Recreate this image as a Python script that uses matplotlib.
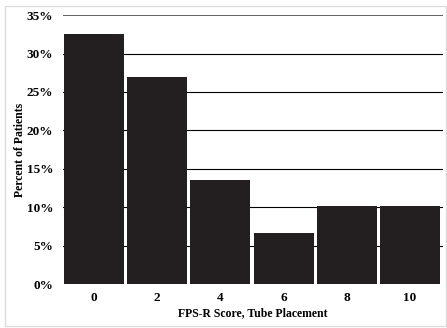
import matplotlib.pyplot as plt
from matplotlib.patches import Rectangle
from matplotlib.ticker import FuncFormatter

# FPS-R scores and share of patients (%)
scores = ['0', '2', '4', '6', '8', '10']
percents = [32.6, 27.0, 13.5, 6.7, 10.1, 10.1]

plt.rcParams['font.family'] = ['Liberation Serif', 'DejaVu Serif']
plt.rcParams['font.weight'] = 'bold'

fig = plt.figure(figsize=(4.47, 3.28), dpi=100)
ax = fig.add_axes([0.141, 0.134, 0.850, 0.820])

# light frame round the whole picture
fig.patches.append(Rectangle((0.012, 0.006), 0.985, 0.976, transform=fig.transFigure,
                             fill=False, edgecolor='#dddddd', linewidth=1))

x = range(len(scores))
ax.bar(x, percents, width=0.95, color='#231f20', zorder=3)

ax.set_ylim(0, 35)
ax.set_xlim(-0.49, 5.52)
ax.set_yticks(range(0, 36, 5))
ax.yaxis.set_major_formatter(FuncFormatter(lambda v, p: f'{int(v)}%'))
ax.set_xticks(list(x))
ax.set_xticklabels(scores)

for v in range(5, 35, 5):
    ax.axhline(v, color='black', linewidth=0.8, zorder=1)
ax.axhline(35, color='#555555', linewidth=1.3, zorder=1)

for s in ax.spines.values():
    s.set_visible(False)
ax.tick_params(length=0, labelsize=9.5)
ax.tick_params(axis='y', pad=7)
ax.tick_params(axis='x', pad=6)

ax.set_xlabel('FPS-R Score, Tube Placement', fontsize=8.5, fontweight='bold')
ax.set_ylabel('Percent of Patients', fontsize=8.5, fontweight='bold')
ax.xaxis.set_label_coords(0.5, -0.085)
ax.yaxis.set_label_coords(-0.097, 0.5)

fig.savefig('out.png', dpi=100)
